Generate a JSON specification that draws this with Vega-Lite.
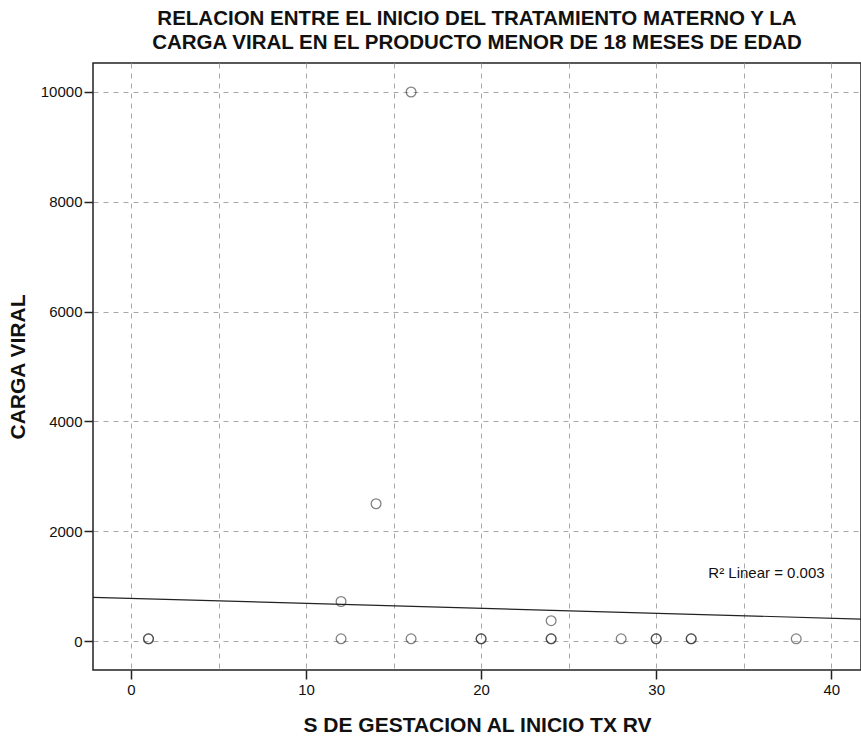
{
  "$schema": "https://vega.github.io/schema/vega-lite/v6.json",
  "autosize": "none",
  "width": 768,
  "height": 607,
  "padding": {"left": 93, "top": 63, "right": 0, "bottom": 66},
  "background": "white",
  "config": {
    "font": "Liberation Sans",
    "view": {"stroke": "#222", "strokeWidth": 1.5},
    "axis": {
      "labelFont": "Liberation Sans", "labelFontSize": 15, "labelColor": "#111",
      "titleFont": "Liberation Sans", "titleFontSize": 21, "titleFontWeight": "bold", "titleColor": "#111",
      "tickColor": "#222", "tickWidth": 1.5, "tickSize": 9,
      "domain": false,
      "gridColor": "#a8a8a8", "gridDash": [5, 5], "gridWidth": 1
    }
  },
  "title": {
    "text": ["RELACION ENTRE EL INICIO DEL TRATAMIENTO MATERNO Y LA", "CARGA VIRAL EN EL PRODUCTO MENOR DE 18 MESES DE EDAD"],
    "font": "Liberation Sans", "fontSize": 20.5, "fontWeight": "bold", "color": "#111",
    "anchor": "middle", "frame": "group", "lineHeight": 24, "offset": 10
  },
  "datasets": {
    "pts": [
      {"semanas": 1, "carga": 40}, {"semanas": 1, "carga": 40},
      {"semanas": 12, "carga": 720}, {"semanas": 12, "carga": 40},
      {"semanas": 14, "carga": 2500},
      {"semanas": 16, "carga": 10000}, {"semanas": 16, "carga": 40},
      {"semanas": 20, "carga": 40}, {"semanas": 20, "carga": 40},
      {"semanas": 24, "carga": 370}, {"semanas": 24, "carga": 40}, {"semanas": 24, "carga": 40},
      {"semanas": 28, "carga": 40},
      {"semanas": 30, "carga": 40}, {"semanas": 30, "carga": 40},
      {"semanas": 32, "carga": 40}, {"semanas": 32, "carga": 40},
      {"semanas": 38, "carga": 40}
    ],
    "fit": [
      {"semanas": -2.17, "carga": 795},
      {"semanas": 41.7, "carga": 400}
    ],
    "label": [
      {"semanas": 36.3, "carga": 1240, "texto": "R² Linear = 0.003"}
    ]
  },
  "encoding": {
    "x": {
      "field": "semanas", "type": "quantitative",
      "scale": {"domain": [-2.17, 41.7], "nice": false, "zero": false},
      "axis": {
        "title": "S DE GESTACION AL INICIO TX RV",
        "values": [0, 5, 10, 15, 20, 25, 30, 35, 40],
        "labelExpr": "datum.value % 10 === 0 ? datum.label : ''",
        "tickOpacity": {"condition": {"test": "datum.value % 10 === 0", "value": 1}, "value": 0},
        "labelPadding": 3, "titlePadding": 17
      }
    },
    "y": {
      "field": "carga", "type": "quantitative",
      "scale": {"domain": [-528, 10528], "nice": false, "zero": false},
      "axis": {
        "title": "CARGA VIRAL",
        "values": [0, 2000, 4000, 6000, 8000, 10000],
        "format": "d",
        "labelPadding": 2, "titlePadding": 12
      }
    }
  },
  "layer": [
    {
      "data": {"name": "fit"},
      "mark": {"type": "line", "color": "#222", "strokeWidth": 1.2, "clip": true},
      "encoding": {}
    },
    {
      "data": {"name": "pts"},
      "mark": {"type": "point", "shape": "circle", "filled": false, "size": 95, "stroke": "#222", "strokeWidth": 1.3, "strokeOpacity": 0.8}
    },
    {
      "data": {"name": "label"},
      "mark": {"type": "text", "font": "Liberation Sans", "fontSize": 15, "color": "#111", "align": "center", "baseline": "middle"},
      "encoding": {"text": {"field": "texto"}}
    }
  ]
}
